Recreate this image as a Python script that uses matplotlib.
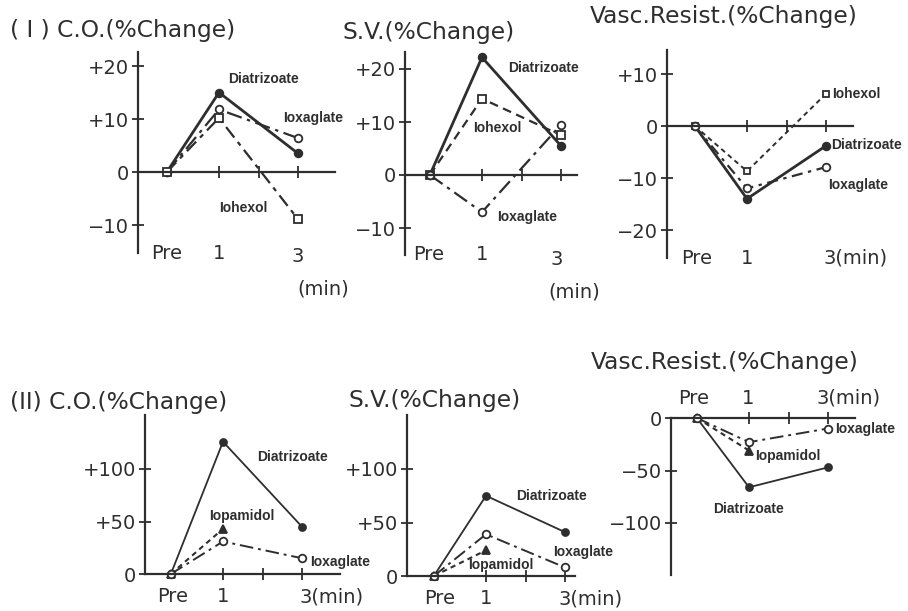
import numpy as np
import matplotlib
matplotlib.use("Agg")
import matplotlib.pyplot as plt

# time points (Pre, 1 min, 3 min)
times = ["Pre", "1", "3"]

# (I) series, % change
co1_diatrizoate = [0, 15.0, 3.5]
co1_iohexol = [0, 10.2, -8.9]
co1_ioxaglate = [0, 11.8, 6.4]

sv1_diatrizoate = [0, 22.2, 5.5]
sv1_iohexol = [0, 14.4, 7.5]
sv1_ioxaglate = [0, -7.0, 9.5]

vr1_diatrizoate = [0, -14.0, -3.8]
vr1_iohexol = [0, -8.7, 6.2]
vr1_ioxaglate = [0, -12.0, -7.9]

# (II) series, % change (iopamidol only measured at 1 min)
co2_diatrizoate = [0, 126, 45]
co2_iopamidol = [0, 43, np.nan]
co2_ioxaglate = [0, 31, 15]

sv2_diatrizoate = [0, 75, 41]
sv2_iopamidol = [0, 24, np.nan]
sv2_ioxaglate = [0, 39, 8]

vr2_diatrizoate = [0, -66, -47]
vr2_iopamidol = [0, -31, np.nan]
vr2_ioxaglate = [0, -23, -10]

W, H = 908, 611
INK = "#2e2e2e"
PX_PER_MIN = 39.5
XPOS = {"Pre": -0.32, "1": 1, "3": 3}
xs = [XPOS[t] for t in times]

fig = plt.figure(figsize=(W / 100, H / 100), dpi=100)
fig.patch.set_facecolor("white")

NUM = dict(family="DejaVu Sans", color=INK)
DRUG = dict(family=["Liberation Sans", "DejaVu Sans"], weight="bold",
            color=INK, fontsize=10)
TITLE = 16.8


def put(x, y, s, size=14, ha="left", va="center", **kw):
    style = dict(NUM)
    style.update(kw)
    fig.text(x / W, 1 - y / H, s, fontsize=size, ha=ha, va=va, **style)


def drug(x, y, s):
    fig.text(x / W, 1 - y / H, s, ha="left", va="center", **DRUG)


def panel(left, right, top, bottom, x1, zero, ppu, yticks, ylabels):
    ax = fig.add_axes([left / W, 1 - bottom / H, (right - left) / W, (bottom - top) / H])
    ax.set_xlim(1 + (left - x1) / PX_PER_MIN, 1 + (right - x1) / PX_PER_MIN)
    ax.set_ylim((zero - bottom) / ppu, (zero - top) / ppu)
    ax.patch.set_alpha(0)
    for s in ("top", "right"):
        ax.spines[s].set_visible(False)
    ax.spines["bottom"].set_position(("data", 0))
    for s in ("left", "bottom"):
        ax.spines[s].set_linewidth(1.6)
        ax.spines[s].set_color(INK)
    ax.set_xticks([1, 2, 3])
    ax.tick_params(axis="x", direction="inout", length=9, width=1.3, color=INK,
                   labelbottom=False)
    ax.set_yticks(yticks)
    ax.set_yticklabels(ylabels, fontsize=14, color=INK)
    ax.tick_params(axis="y", direction="inout", length=9, width=1.3, color=INK, pad=2)
    return ax


def line(ax, vals, style, marker, filled, lw=1.6, ms=5.5):
    ax.plot(xs, vals, linestyle=style, color=INK, lw=lw, marker=marker, ms=ms,
            mfc=INK if filled else "white", mec=INK, mew=1.3, clip_on=False)


DASH = (0, (4, 2.5))
DASHDOT = (0, (7, 2.5, 1.5, 2.5))
SHORT = (0, (2.5, 2))

# ---- (I) C.O.
ax = panel(138, 335, 52, 253, 219, 172, 5.3, [-10, 0, 10, 20], ["\u221210", "0", "+10", "+20"])
line(ax, co1_diatrizoate, "-", "o", True, lw=2.0)
line(ax, co1_ioxaglate, DASHDOT, "o", False)
line(ax, co1_iohexol, (0, (6, 2.5, 2, 2.5)), "s", False)
put(10, 30, "( I ) C.O.(%Change)", size=TITLE)
put(167, 253, "Pre", ha="center")
put(219, 253, "1", ha="center")
put(298, 257, "3", ha="center")
put(323, 289, "(min)", ha="center")
drug(228, 79, "Diatrizoate")
drug(283, 118, "Ioxaglate")
drug(219, 208, "Iohexol")

# ---- (I) S.V.
ax = panel(405, 577, 52, 255, 482, 175, 5.3, [-10, 0, 10, 20], ["\u221210", "0", "+10", "+20"])
line(ax, sv1_diatrizoate, "-", "o", True, lw=2.0)
line(ax, sv1_iohexol, DASH, "s", False)
line(ax, sv1_ioxaglate, DASHDOT, "o", False)
put(342, 32, "S.V.(%Change)", size=TITLE)
put(429, 255, "Pre", ha="center")
put(482, 255, "1", ha="center")
put(557, 260, "3", ha="center")
put(574, 292, "(min)", ha="center")
drug(508, 68, "Diatrizoate")
drug(473, 128, "Iohexol")
drug(497, 217, "Ioxaglate")

# ---- (I) Vasc. Resist.
ax = panel(667, 853, 50, 258, 747, 126, 5.2, [-20, -10, 0, 10], ["\u221220", "\u221210", "0", "+10"])
line(ax, vr1_diatrizoate, "-", "o", True, lw=2.0)
line(ax, vr1_iohexol, SHORT, "s", False, lw=1.4, ms=5)
line(ax, vr1_ioxaglate, (0, (5, 2.5, 1.5, 2.5)), "o", False)
put(590, 17, "Vasc.Resist.(%Change)", size=TITLE)
put(697, 258, "Pre", ha="center")
put(747, 258, "1", ha="center")
put(856, 258, "3(min)", ha="center")
drug(832, 94, "Iohexol")
drug(831, 145, "Diatrizoate")
drug(828, 185, "Ioxaglate")

# ---- (II) C.O.
ax = panel(145, 340, 415, 574, 223, 574, 1.05, [0, 50, 100], ["0", "+50", "+100"])
line(ax, co2_diatrizoate, "-", "o", True, lw=1.3, ms=5)
line(ax, co2_iopamidol, SHORT, "^", True, lw=1.5)
line(ax, co2_ioxaglate, DASHDOT, "o", False, lw=1.4)
put(10, 402, "(II) C.O.(%Change)", size=TITLE)
put(173, 597, "Pre", ha="center")
put(223, 597, "1", ha="center")
put(332, 597, "3(min)", ha="center")
drug(257, 457, "Diatrizoate")
drug(209, 516, "Iopamidol")
drug(310, 562, "Ioxaglate")

# ---- (II) S.V.
ax = panel(407, 575, 415, 576, 486, 576, 1.07, [0, 50, 100], ["0", "+50", "+100"])
line(ax, sv2_diatrizoate, "-", "o", True, lw=1.3, ms=5)
line(ax, sv2_iopamidol, SHORT, "^", True, lw=1.5)
line(ax, sv2_ioxaglate, DASHDOT, "o", False, lw=1.4)
put(348, 400, "S.V.(%Change)", size=TITLE)
put(440, 599, "Pre", ha="center")
put(486, 599, "1", ha="center")
put(591, 599, "3(min)", ha="center")
drug(516, 496, "Diatrizoate")
drug(553, 552, "Ioxaglate")
drug(468, 565, "Iopamidol")

# ---- (II) Vasc. Resist.
ax = panel(671, 855, 418, 575, 749, 418, 1.05, [-100, -50, 0], ["\u2212100", "\u221250", "0"])
line(ax, vr2_diatrizoate, "-", "o", True, lw=1.3, ms=5)
line(ax, vr2_iopamidol, SHORT, "^", True, lw=1.5)
line(ax, vr2_ioxaglate, DASHDOT, "o", False, lw=1.4)
put(591, 363, "Vasc.Resist.(%Change)", size=TITLE)
put(694, 398, "Pre", ha="center")
put(748, 398, "1", ha="center")
put(849, 398, "3(min)", ha="center")
drug(835, 429, "Ioxaglate")
drug(755, 456, "Iopamidol")
drug(713, 509, "Diatrizoate")

fig.savefig("out.png", dpi=100, facecolor="white")
